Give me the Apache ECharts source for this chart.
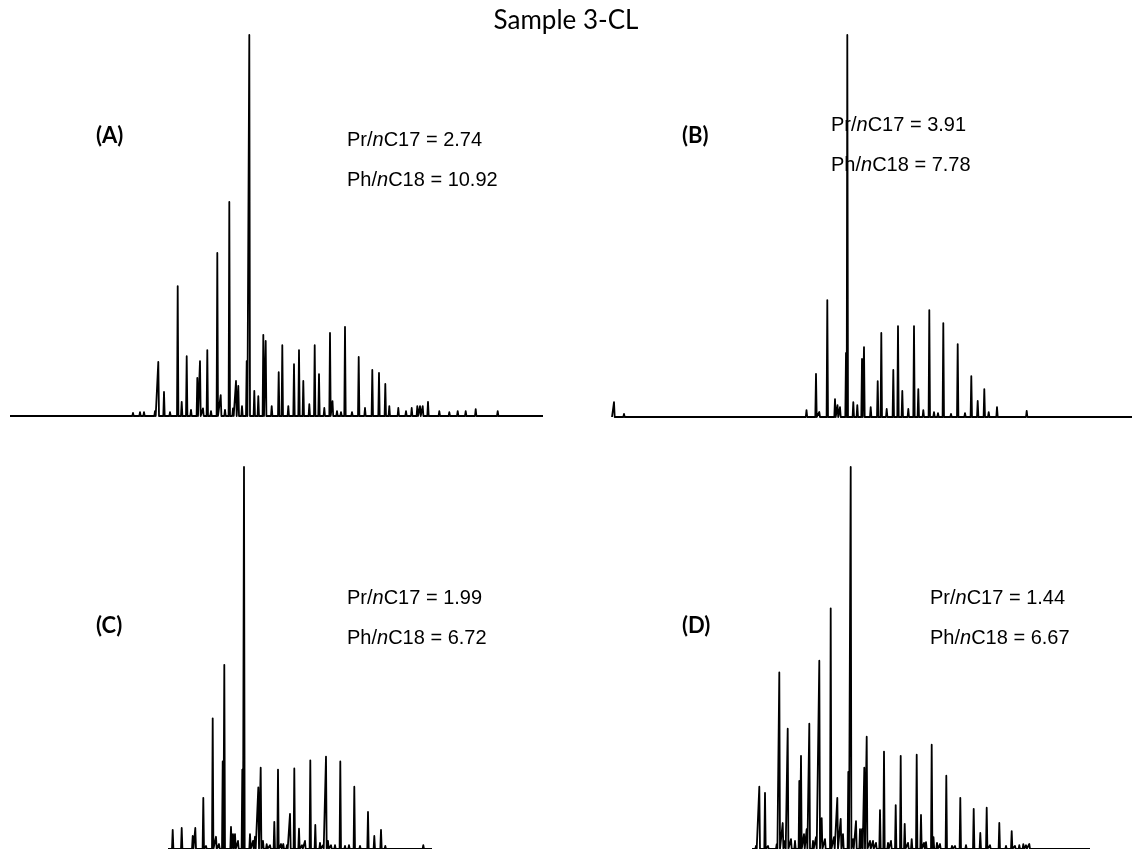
<!DOCTYPE html>
<html>
<head>
<meta charset="utf-8">
<script src="https://cdn.jsdelivr.net/npm/echarts@6/dist/echarts.min.js"></script>
<style>
html,body{margin:0;padding:0;background:#fff;}
#chart{width:1132px;height:849px;}
</style>
</head>
<body>
<div id="chart"></div>
<script>
// Retention time (arbitrary units) and relative intensity (% of largest peak)
const rtA = [133,140,144,155,158.3,164,170,177.7,181.7,186.7,191,197.3,200,203,207.3,211,217.3,220.7,225,229.3,233,236,238.3,242,246.7,249.3,254.3,258.3,263.3,265.7,271.7,278.7,282.3,288.3,294,299,303.3,309.3,314.7,319,324.3,330,332.5,337,341,345,352,358.7,365,372.3,379,385.3,389.3,398.3,406,411.7,417.3,420,422.7,428,439.3,449.3,457.7,465.7,475.7,497.7];
const hA  = [0.8,1,1,1.3,14.2,6.3,1,34.1,3.7,15.7,1.6,10,14.4,2,17.3,1.3,42.8,5.5,1.6,56.2,2,9.2,7.9,2.6,14.4,100,6.6,5.2,21.3,19.7,2.6,11.5,18.6,2.6,13.6,17.3,9.2,3.1,18.6,11,2.1,21.8,3.9,1.3,1,23.4,1,15.5,2.1,12.1,11.3,8.4,2.6,2.1,1.3,2.1,2.6,2.6,2.6,3.7,1.3,1,1.3,1.3,1.8,1.3];
const rangeA = [10, 543];

const rtB = [614,624,675,760,806.5,816,819.3,827.3,835,837.5,840,846,847.3,853.3,857.3,862,864,870.7,877.7,881.3,886.7,893.3,898,902.3,908.3,914,918.3,923.3,929.3,934,938,943.3,951,957.7,965,971.3,977.7,984.3,988.7,997,1007,1013,1020,1026.7,1048,1057,1075,1097];
const hB  = [3.9,0.8,0.5,0.5,1.8,11.3,1.3,30.6,4.7,3.1,2.6,16.8,100,3.9,3.1,15.2,18.3,2.6,9.4,22,2.1,12.3,23.8,6.8,2.1,23.8,7.3,1.8,28,1.3,1,24.6,0.8,19.1,1,10.7,4.2,7.3,1.3,2.6,0.5,0.5,0.5,1.6,0.5,0.5,0.5,0.4];
const rangeB = [612, 1132];

const rtC = [172.7,181.7,192.7,195.3,203.3,206,212.7,216,219,222.7,224.3,231,233,235,238,242.3,244,250,253,255,258.3,260.7,263,266.7,270,274.3,278,281,283.3,287,290,294.3,299,302,305,310.3,315.3,320,323,326,328,331,335,340.3,345,349,354.3,360,368,374.3,381,385.3,395,405,415,423.3];
const hC  = [5,5.5,3.4,5.5,13.4,0.8,34.2,3.2,1.3,22.9,48.2,5.8,3.9,3.9,2.1,20.8,100,3.9,2.1,3.2,16.1,21.3,2.1,1.3,1,7.1,20.8,1.3,1.3,1,9.2,21.1,5.3,1,2.1,23.2,6.3,1.6,1,24.2,2.1,1,1,22.9,0.8,1,16.3,0.8,9.7,3.4,5,0.8,0.5,0.5,0.5,1];
const rangeC = [168, 432];

const rtD = [756,759.3,765,768,776.7,779.3,782.7,785,787.7,791,795,799.3,801,804,806.7,809.3,813,816,819.3,821.7,825,830.7,834,837.3,840.7,843,848.3,850.7,853,856,860,862,864.3,866.7,870,873,876,880,884,888,891,895.7,900.7,904.7,908,911.7,916.7,921,924,926,931.7,933.5,937,940,946.3,952,955,960.3,966,973.7,980.3,986.7,990,999.3,1006,1011.7,1015,1019.3,1023.3,1026,1029.3,1077.7];
const hD  = [0.8,16.3,14.7,0.8,1.3,46.2,6.8,2.1,31.5,2.6,2.1,17.8,24.4,3.9,5.2,32.8,2.1,3.1,49.3,8.1,2.6,63,3.1,13.4,7.9,3.9,20.2,100,2.6,7.3,5.2,5.2,21.3,29.4,2.1,2.1,1.6,10.2,25.5,1.6,2.1,11.5,24.4,6.6,1.6,2.6,24.7,8.9,1.6,1.8,27.3,3.1,1.6,1.3,19.2,0.8,0.8,13.4,1,10.5,4.2,10.8,1,6.8,0.8,4.7,0.8,1,1.3,1,1.3,0.5];
const rangeD = [752, 1090];

const panelLabels = ['(A)', '(B)', '(C)', '(D)'];
const prRatios = ['2.74', '3.91', '1.99', '1.44'];
const phRatios = ['10.92', '7.78', '6.72', '6.67'];
const chartTitle = 'Sample 3-CL';

function buildTrace(range, rt, h) {
  const idx = rt.map((_, i) => i).sort((a, b) => rt[a] - rt[b]);
  const pts = [[range[0], 0]];
  idx.forEach(i => {
    pts.push([rt[i] - 0.7, 0]);
    pts.push([rt[i], h[i]]);
    pts.push([rt[i] + 0.7, 0]);
  });
  pts.push([range[1], 0]);
  return pts;
}

const grids = [
  {left: 10,  top: 35,  width: 533, height: 381},
  {left: 612, top: 35,  width: 520, height: 382},
  {left: 10,  top: 467, width: 533, height: 384},
  {left: 612, top: 467, width: 520, height: 384}
];
const xRanges = [[10, 543], [612, 1132], [10, 543], [612, 1132]];
const traces = [
  buildTrace(rangeA, rtA, hA),
  buildTrace(rangeB, rtB, hB),
  buildTrace(rangeC, rtC, hC),
  buildTrace(rangeD, rtD, hD)
];

const labelPos = [[96, 125], [682, 125], [96, 615], [682, 615]];
const ratioPos = [[347, 128, 168], [831, 113, 153], [347, 586, 626], [930, 586, 626]];

const rich = {
  a: {fontFamily: 'Liberation Sans', fontSize: 20, fontWeight: 'normal', color: '#000', lineHeight: 24},
  i: {fontFamily: 'Liberation Sans', fontSize: 20, fontWeight: 'normal', color: '#000', fontStyle: 'italic', lineHeight: 24}
};

const titles = [{
  text: chartTitle, left: 'center', top: 8, padding: 0,
  textStyle: {fontFamily: 'Lato', fontWeight: 'normal', fontSize: 26, color: '#000'}
}];
for (let k = 0; k < 4; k++) {
  titles.push({
    text: panelLabels[k], left: labelPos[k][0], top: labelPos[k][1], padding: 0,
    textStyle: {fontFamily: 'Lato', fontWeight: 'bold', fontSize: 22, color: '#000'}
  });
  titles.push({
    text: '{a|Pr/}{i|n}{a|C17 = ' + prRatios[k] + '}', left: ratioPos[k][0], top: ratioPos[k][1], padding: 0,
    textStyle: {fontWeight: 'normal', rich: rich}
  });
  titles.push({
    text: '{a|Ph/}{i|n}{a|C18 = ' + phRatios[k] + '}', left: ratioPos[k][0], top: ratioPos[k][2], padding: 0,
    textStyle: {fontWeight: 'normal', rich: rich}
  });
}

const option = {
  backgroundColor: '#fff',
  animation: false,
  title: titles,
  grid: grids,
  xAxis: grids.map((g, k) => ({type: 'value', gridIndex: k, min: xRanges[k][0], max: xRanges[k][1], show: false})),
  yAxis: grids.map((g, k) => ({type: 'value', gridIndex: k, min: 0, max: 100, show: false})),
  series: traces.map((d, k) => ({
    type: 'line', xAxisIndex: k, yAxisIndex: k, data: d, showSymbol: false,
    clip: false,
    lineStyle: {color: '#000', width: 1.8, join: 'round'}
  }))
};

const chart = echarts.init(document.getElementById('chart'), null, {renderer: 'canvas'});
chart.setOption(option);
</script>
</body>
</html>
